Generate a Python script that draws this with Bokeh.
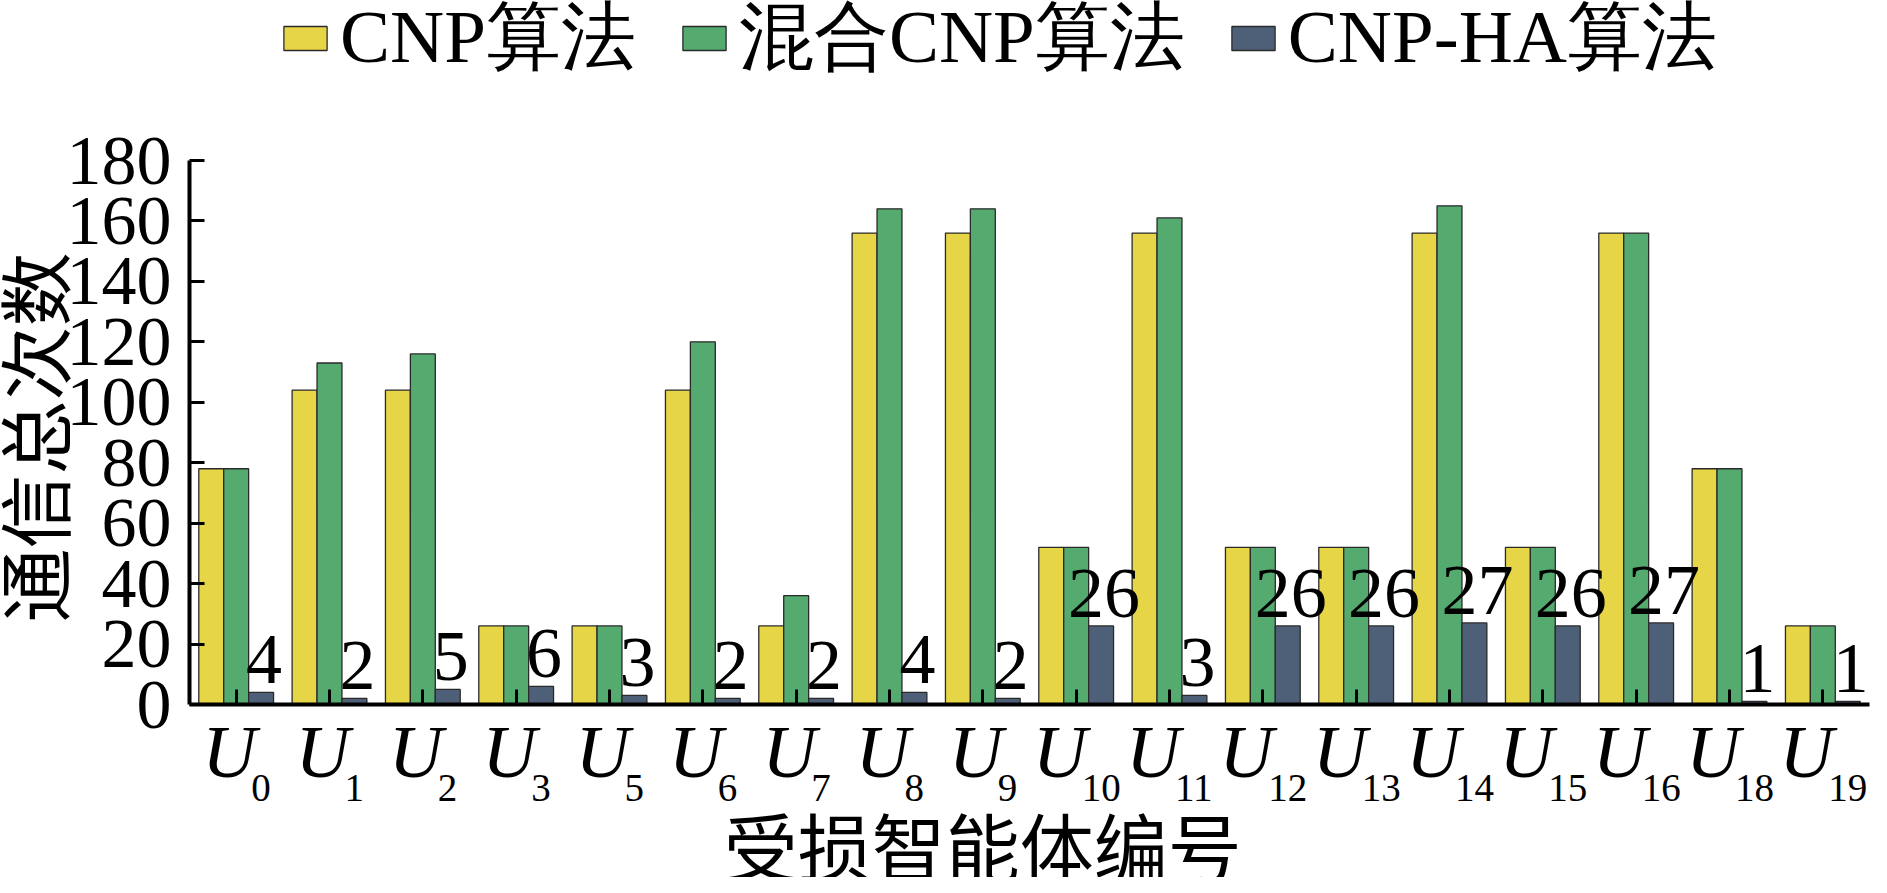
from math import pi
from bokeh.plotting import figure
from bokeh.layouts import row, column
from bokeh.models import (ColumnDataSource, FactorRange, Range1d, LabelSet, Label,
                          Legend, LegendItem, FixedTicker, CustomJSTickFormatter)
from bokeh.transform import dodge
from bokeh.core.properties import value
from bokeh.embed import file_html
from bokeh.resources import INLINE

# ---------------- data ----------------
agents = ["U0", "U1", "U2", "U3", "U5", "U6", "U7", "U8", "U9", "U10",
          "U11", "U12", "U13", "U14", "U15", "U16", "U18", "U19"]
agent_subs = ["0", "1", "2", "3", "5", "6", "7", "8", "9", "10",
              "11", "12", "13", "14", "15", "16", "18", "19"]
cnp = [78, 104, 104, 26, 26, 104, 26, 156, 156, 52, 156, 52, 52, 156, 52, 156, 78, 26]
mixed_cnp = [78, 113, 116, 26, 26, 120, 36, 164, 164, 52, 161, 52, 52, 165, 52, 156, 78, 26]
cnp_ha = [4, 2, 5, 6, 3, 2, 2, 4, 2, 26, 3, 26, 26, 27, 26, 27, 1, 1]
series_names = ["CNP算法", "混合CNP算法", "CNP-HA算法"]
y_ticks = [0, 20, 40, 60, 80, 100, 120, 140, 160, 180]
x_title = "受损智能体编号"
y_title = "通信总次数"

# ---------------- style / layout constants ----------------
SERIF = "Liberation Serif"
CJK = "Noto Sans CJK SC"
colors = ["#E6D547", "#54AA6F", "#4E6078"]
BW = 0.267
TOTAL_W, TOTAL_H = 1871, 877
LEFT_W = 186                # strip holding the y title and the y tick labels
FRAME_TOP_PAD = 160         # px above the 180 line (legend lives there)
PLOT_H = 544                # px for 0..180
AX_GAP = 3                  # px under the x axis that belong to the main figure
PX = PLOT_H / 180.0
MAIN_W = TOTAL_W - LEFT_W
MAIN_H = FRAME_TOP_PAD + PLOT_H + AX_GAP
LOW_H = TOTAL_H - MAIN_H
Y_TOP = 180 + FRAME_TOP_PAD / PX

xr = FactorRange(factors=agents, range_padding=0)

p = figure(width=MAIN_W, height=MAIN_H, output_backend="svg", toolbar_location=None,
           x_range=xr, y_range=Range1d(0, Y_TOP),
           min_border_left=3, min_border_right=2,
           min_border_top=0, min_border_bottom=AX_GAP)
p.outline_line_color = None
p.grid.visible = False

src = ColumnDataSource(dict(
    agent=agents, cnp=cnp, mixed=mixed_cnp, ha=cnp_ha,
    ha_text=[str(v) for v in cnp_ha],
    sub=agent_subs,
    u_txt=["U"] * len(agents),
    u_off=[-(49 + 19 * len(s)) / 2 for s in agent_subs],
    s_off=[-(49 + 19 * len(s)) / 2 + 49 for s in agent_subs],
))

renders = []
for col, off, c in zip(["cnp", "mixed", "ha"], [-BW, 0, BW], colors):
    r = p.vbar(x=dodge("agent", off, range=xr), top=col, width=BW,
               source=src, fill_color=c, line_color="#2a2a2a", line_width=1.3)
    renders.append(r)

for ax in (p.xaxis[0], p.yaxis[0]):
    ax.axis_line_width = 4
    ax.axis_line_color = "black"
    ax.major_tick_in = 15
    ax.major_tick_out = 0
    ax.major_tick_line_width = 3
    ax.major_tick_line_color = "black"
    ax.minor_tick_line_color = None
    ax.formatter = CustomJSTickFormatter(code="return ''")
    ax.major_label_standoff = 0
    ax.major_label_text_font_size = "1px"

p.yaxis.ticker = FixedTicker(ticks=y_ticks)
p.yaxis.bounds = (0, 180)

# value labels for CNP-HA
p.add_layout(LabelSet(x=dodge("agent", BW, range=xr), y="ha", text="ha_text",
                      source=src, text_align="center", text_baseline="alphabetic",
                      x_offset=3, y_offset=9, text_font=value(SERIF),
                      text_font_size="72px", text_color="black"))

legend = Legend(items=[LegendItem(label=n, renderers=[r]) for n, r in zip(series_names, renders)],
                orientation="horizontal", location=(89 + 129 - 3 - 126, 616),
                glyph_width=54, glyph_height=30, label_standoff=8, spacing=41,
                padding=0, margin=0, border_line_color=None, background_fill_alpha=0,
                label_text_font=SERIF, label_text_font_size="75px",
                label_text_color="black")
p.add_layout(legend)

# ---------- lower strip: x tick labels (U + subscript) and x title ----------
q = figure(width=MAIN_W, height=LOW_H, output_backend="svg", toolbar_location=None,
           x_range=xr, y_range=Range1d(-(AX_GAP + LOW_H), -AX_GAP),
           min_border_left=3, min_border_right=2, min_border_top=0, min_border_bottom=0,
           x_axis_location=None, y_axis_location=None)
q.outline_line_color = None
q.grid.visible = False
q.add_layout(LabelSet(x="agent", y=-72, text="u_txt", source=src, x_offset="u_off",
                      text_align="left", text_baseline="alphabetic",
                      text_font=value(SERIF), text_font_style="italic",
                      text_font_size="75px", text_color="black"))
q.add_layout(LabelSet(x="agent", y=-96, text="sub", source=src, x_offset="s_off",
                      text_align="left", text_baseline="alphabetic",
                      text_font=value(SERIF), text_font_size="39px", text_color="black"))
q.add_layout(Label(x=8.5, y=-139, text=x_title, text_align="center",
                   text_baseline="middle", text_font=CJK,
                   text_font_size="74px", text_color="black"))

# ---------- left strip: y tick labels and y title (same value scale as the plot) ----------
t = figure(width=LEFT_W, height=TOTAL_H, output_backend="svg", toolbar_location=None,
           x_range=Range1d(0, LEFT_W),
           y_range=Range1d(-(TOTAL_H - FRAME_TOP_PAD - PLOT_H) / PX, Y_TOP),
           min_border=0, x_axis_location=None, y_axis_location=None)
t.outline_line_color = None
t.grid.visible = False
tick_src = ColumnDataSource(dict(y=y_ticks, txt=[str(v) for v in y_ticks]))
t.add_layout(LabelSet(x=LEFT_W + 3 - 18, y="y", text="txt", source=tick_src,
                      text_align="right", text_baseline="middle",
                      text_font=value(SERIF), text_font_size="70px", text_color="black"))
t.add_layout(Label(x=31, y=90 - 5 / PX, text=y_title, angle=pi / 2, text_align="center",
                   text_baseline="middle", text_font=CJK,
                   text_font_size="74px", text_color="black"))

layout = row(t, column(p, q, spacing=0), spacing=0)
open("out.html", "w").write(file_html(layout, INLINE))
